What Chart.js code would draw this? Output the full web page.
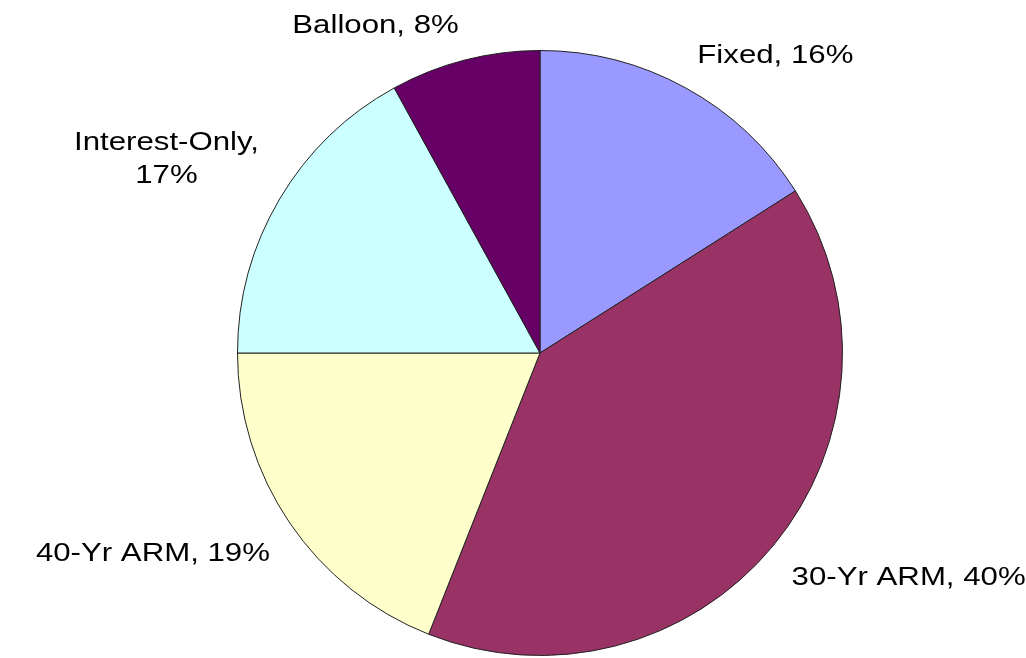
<!DOCTYPE html>
<html>
<head>
<meta charset="utf-8">
<title>Loan types</title>
<script src="https://cdn.jsdelivr.net/npm/chart.js@4/dist/chart.umd.min.js"></script>
<style>
  html, body { margin: 0; padding: 0; background: #fff; }
  #wrap { width: 1026px; height: 658px; }
</style>
</head>
<body>
<div id="wrap"><canvas id="pieChart" width="1026" height="658"></canvas></div>
<script>
// ----------------------
// Data
// ----------------------
const categories = ["Fixed", "30-Yr ARM", "40-Yr ARM", "Interest-Only", "Balloon"];
const shares = [16, 40, 19, 17, 8];
const sliceColors = ["#9999FF", "#993366", "#FFFFCC", "#CCFFFF", "#660066"];

// "Name, NN%" labels, wrapped after the comma when too wide
const labelTexts = categories.map((c, i) => `${c}, ${shares[i]}%`);

// ----------------------
// Outside-end labels, Excel style
// ----------------------
const outsideLabels = {
  id: "outsideLabels",
  afterDatasetsDraw(chart, args, opts) {
    const ctx = chart.ctx;
    const meta = chart.getDatasetMeta(0);
    ctx.save();
    ctx.font = `${opts.size}px ${opts.family}`;
    ctx.fillStyle = opts.color;
    ctx.textBaseline = "alphabetic";

    meta.data.forEach((arc, i) => {
      const p = arc.getProps(["x", "y", "startAngle", "endAngle", "outerRadius"], true);
      const mid = (p.startAngle + p.endAngle) / 2;
      const r = p.outerRadius + opts.gap;
      const cx = p.x + Math.cos(mid) * r;
      const cy = p.y + Math.sin(mid) * r;

      let lines = [labelTexts[i]];
      if (ctx.measureText(labelTexts[i]).width * opts.stretch > opts.maxWidth) {
        const cut = labelTexts[i].indexOf(", ");
        lines = [labelTexts[i].slice(0, cut + 1), labelTexts[i].slice(cut + 2)];
      }
      const widths = lines.map(l => ctx.measureText(l).width * opts.stretch);
      const w = Math.max(...widths);
      const h = (lines.length - 1) * opts.lineSpacing + opts.boxHeight;
      // the box corner facing the pie sits on the slice's mid-angle
      const left = Math.cos(mid) >= 0 ? cx : cx - w;
      const top = Math.sin(mid) >= 0 ? cy : cy - h;

      lines.forEach((l, j) => {
        const lx = left + (w - widths[j]) / 2;
        const by = top + j * opts.lineSpacing + opts.ascent;
        ctx.save();
        ctx.translate(lx, by);
        ctx.scale(opts.stretch, 1);
        ctx.fillText(l, 0, 0);
        ctx.restore();
      });
    });
    ctx.restore();
  }
};

// ----------------------
// Chart
// ----------------------
new Chart(document.getElementById("pieChart").getContext("2d"), {
  type: "pie",
  data: {
    labels: categories,
    datasets: [{
      data: shares,
      backgroundColor: sliceColors,
      borderColor: "#222",
      borderWidth: 1
    }]
  },
  options: {
    responsive: false,
    devicePixelRatio: 1,
    animation: false,
    layout: { padding: { top: 50, bottom: 2, left: 54, right: 0 } },
    plugins: {
      legend: { display: false },
      tooltip: { enabled: false },
      outsideLabels: {
        family: "'Liberation Sans', Arial, sans-serif",
        size: 26,
        stretch: 1.2,
        color: "#000",
        gap: 24,
        boxHeight: 28,
        lineSpacing: 33,
        ascent: 24,
        maxWidth: 250
      }
    }
  },
  plugins: [outsideLabels]
});
</script>
</body>
</html>
